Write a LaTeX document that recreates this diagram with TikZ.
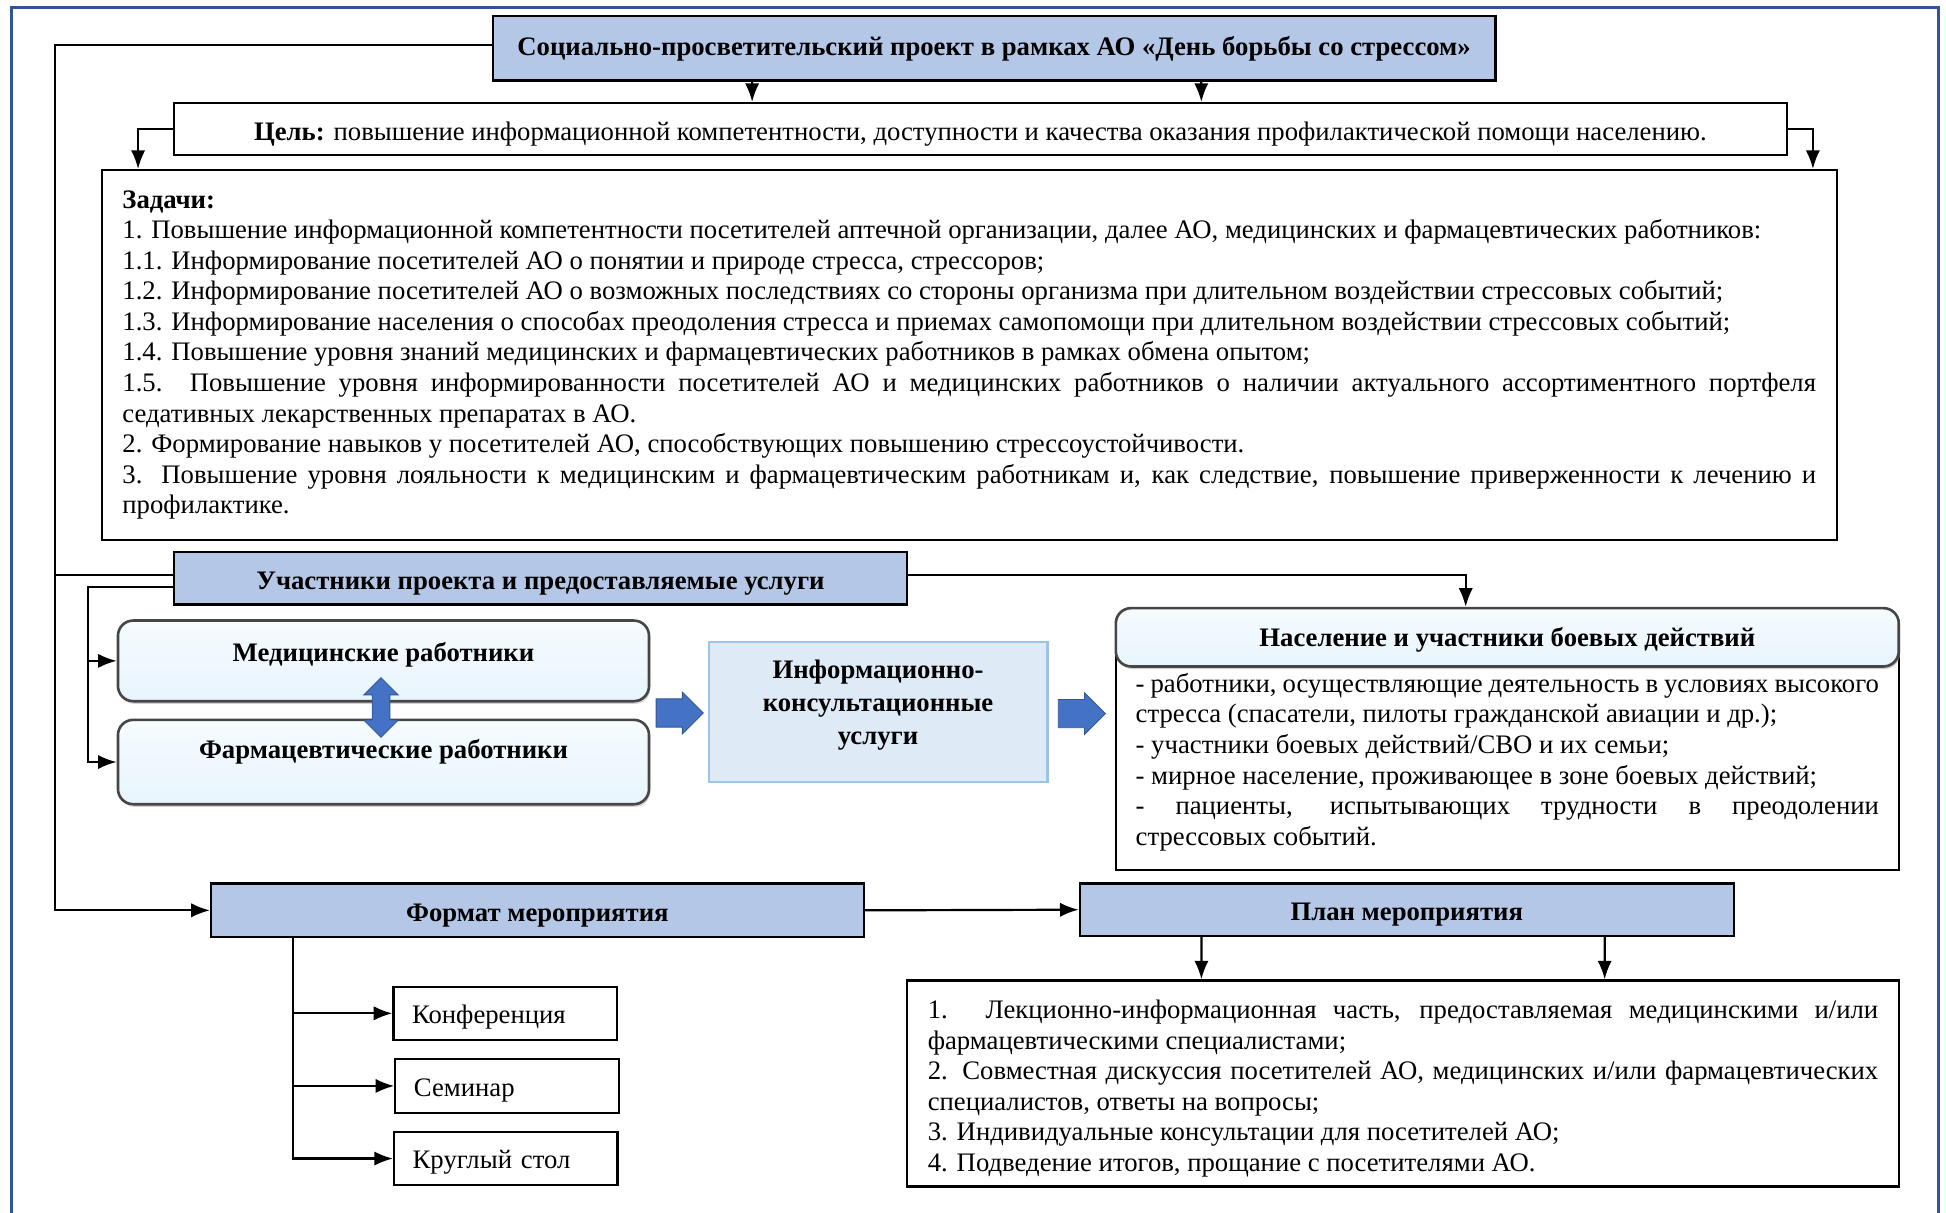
\documentclass[tikz,border=0pt]{standalone}
\usepackage{fontspec}
\setmainfont{Liberation Serif}
\usepackage{tikz}
\usetikzlibrary{arrows, arrows.meta, shapes.arrows, shadows}
\definecolor{hdrblue}{RGB}{180,199,231}
\definecolor{framecol}{RGB}{47,85,151}
\definecolor{arrowblue}{RGB}{68,114,196}
\definecolor{infofill}{RGB}{222,234,246}
\definecolor{infoline}{RGB}{157,195,230}
\definecolor{roundfill}{RGB}{232,245,253}
\hyphenpenalty=10000
\exhyphenpenalty=10000
\AtBeginDocument{\fontsize{12.25}{14}\selectfont}
\tikzstyle{header} = [rectangle, draw=black, line width=1.1pt, fill=hdrblue, text centered, font=\bfseries]
\tikzstyle{textbox} = [rectangle, draw=black, line width=1pt, fill=white]
\tikzstyle{roundbox} = [rectangle, rounded corners=7pt, draw=gray!55!black, line width=1.2pt, top color=roundfill!40!white, bottom color=roundfill, drop shadow={shadow xshift=0.6pt, shadow yshift=-1.2pt, fill=gray!70}, text centered, font=\bfseries]
\tikzstyle{infobox} = [rectangle, draw=infoline, line width=1pt, fill=infofill, align=center, font=\bfseries\fontsize{12.25}{15.2}\selectfont]
\tikzstyle{smallbox} = [rectangle, draw=black, line width=1pt, fill=white, minimum width=3.6cm, minimum height=0.86cm, text width=3cm, text height=0.42cm, align=left]
\tikzstyle{blockarrow} = [single arrow, draw=arrowblue!75!black, fill=arrowblue, inner xsep=0pt, inner ysep=0.22cm, minimum height=0.76cm, single arrow head extend=0.11cm]
\tikzstyle{twoarrow} = [double arrow, draw=arrowblue!75!black, fill=arrowblue, inner xsep=0pt, inner ysep=0.135cm, minimum height=0.96cm, double arrow head extend=0.135cm, rotate=90]
\tikzstyle{arrow} = [line width=1pt,->,>={Latex[length=3mm,width=2.3mm]}]

\begin{document}
\begin{tikzpicture}[x=0.02cm, y=-0.02cm]
\useasboundingbox (0,0) rectangle (1568,977);
%рамка
\draw [framecol, line width=1.5pt] (9,990) -- (9,6) -- (1562,6) -- (1562,990);

%блоки
\node (title) [header, minimum width=16.16cm, minimum height=1.04cm] at (801,39) {Социально-просветительский проект в рамках АО «День борьбы со стрессом»};
\node (goal) [textbox, minimum width=26cm, minimum height=0.8cm, text height=0.46cm] at (790,104) {\textbf{Цель:} повышение информационной компетентности, доступности и качества оказания профилактической помощи населению.};
\node (tasks) [textbox, minimum width=27.96cm, minimum height=5.96cm, text width=27.3cm, align=justify] at (781,286) {\textbf{Задачи:}\\
1. Повышение информационной компетентности посетителей аптечной организации, далее АО, медицинских и фармацевтических работников:\\
1.1. Информирование посетителей АО о понятии и природе стресса, стрессоров;\\
1.2. Информирование посетителей АО о возможных последствиях со стороны организма при длительном воздействии стрессовых событий;\\
1.3. Информирование населения о способах преодоления стресса и приемах самопомощи при длительном воздействии стрессовых событий;\\
1.4. Повышение уровня знаний медицинских и фармацевтических работников в рамках обмена опытом;\\
1.5. Повышение уровня информированности посетителей АО и медицинских работников о наличии актуального ассортиментного портфеля\linebreak седативных лекарственных препаратах в АО.\\
2. Формирование навыков у посетителей АО, способствующих повышению стрессоустойчивости.\\
3. Повышение уровня лояльности к медицинским и фармацевтическим работникам и, как следствие, повышение приверженности к лечению и\linebreak профилактике.};
\node (uch) [header, minimum width=11.82cm, minimum height=0.84cm, text height=0.44cm] at (435.5,466) {Участники проекта и предоставляемые услуги};
\node (med) [roundbox, minimum width=8.56cm, minimum height=1.3cm, text depth=0.3cm] at (309,532.5) {Медицинские работники};
\node (farm) [roundbox, minimum width=8.56cm, minimum height=1.36cm, text depth=0.42cm] at (309,614) {Фармацевтические работники};
\node (both) [twoarrow] at (307,570) {};
\node (info) [infobox, minimum width=5.46cm, minimum height=2.26cm, text depth=0.3cm] at (707.5,573.5) {Информационно-\\консультационные\\услуги};
\node (bar1) [blockarrow] at (542,574.5) {};
\node (bar2) [blockarrow] at (866,575) {};
\node (nasbody) [textbox, minimum width=12.62cm, minimum height=3.48cm, text width=11.98cm, align=justify] at (1214.5,614) {- работники, осуществляющие деятельность в условиях высокого стресса (спасатели, пилоты гражданской авиации и др.);\\
- участники боевых действий/СВО и их семьи;\\
- мирное население, проживающее в зоне боевых действий;\\
- пациенты, испытывающих трудности в преодолении\linebreak стрессовых событий.};
\node (nashead) [roundbox, minimum width=12.62cm, minimum height=0.94cm, text height=0.4cm] at (1214.5,513.5) {Население и участники боевых действий};
\node (fmt) [header, minimum width=10.52cm, minimum height=0.86cm, text height=0.44cm] at (433,733.5) {Формат мероприятия};
\node (plan) [header, minimum width=10.54cm, minimum height=0.84cm, text height=0.44cm] at (1133.5,733) {План мероприятия};
\node (konf) [smallbox] at (407,816.5) {Конференция};
\node (sem) [smallbox] at (408.5,875) {Семинар};
\node (krug) [smallbox] at (407.5,933.5) {Круглый стол};
\node (planlist) [textbox, minimum width=15.98cm, minimum height=3.32cm, text width=15.32cm, align=justify, text height=0.46cm] at (1130.5,873) {1. Лекционно-информационная часть, предоставляемая медицинскими и/или\linebreak фармацевтическими специалистами;\\
2. Совместная дискуссия посетителей АО, медицинских и/или фармацевтических\linebreak специалистов, ответы на вопросы;\\
3. Индивидуальные консультации для посетителей АО;\\
4. Подведение итогов, прощание с посетителями АО.};

%связи
\coordinate (lft) at (44,0);
\draw [arrow] ([xshift=-3.9cm]title.south) -- ([xshift=-3.68cm]goal.north);
\draw [arrow] ([xshift=3.34cm]title.south) -- ([xshift=3.56cm]goal.north);
\draw [arrow] (goal.west) -| ([xshift=0.6cm]tasks.north west);
\draw [arrow] (goal.east) -| ([xshift=-0.4cm]tasks.north east);
\draw [arrow] ([yshift=0.06cm]title.west) -| (lft |- fmt.west) -- (fmt.west);
\draw [line width=1pt] ([yshift=0.06cm]lft |- uch.west) -- ([yshift=0.06cm]uch.west);
\draw [arrow] ([yshift=-0.14cm]uch.west) -| ([xshift=-0.46cm]med.west) -- (med.west);
\draw [arrow] ([xshift=-0.46cm]med.west) |- (farm.west);
\draw [arrow] ([yshift=0.06cm]uch.east) -| ([xshift=-0.67cm]nashead.north);
\draw [arrow] (fmt.east) -- (plan.west);
\draw [arrow] ([xshift=-3.94cm]fmt.south) |- (konf.west);
\draw [arrow] ([xshift=-3.94cm]fmt.south) |- (sem.west);
\draw [arrow] ([xshift=-3.94cm]fmt.south) |- (krug.west);
\draw [arrow] ([xshift=-3.31cm]plan.south) -- ([xshift=-3.25cm]planlist.north);
\draw [arrow] ([xshift=3.19cm]plan.south) -- ([xshift=3.25cm]planlist.north);
\end{tikzpicture}
\end{document}
